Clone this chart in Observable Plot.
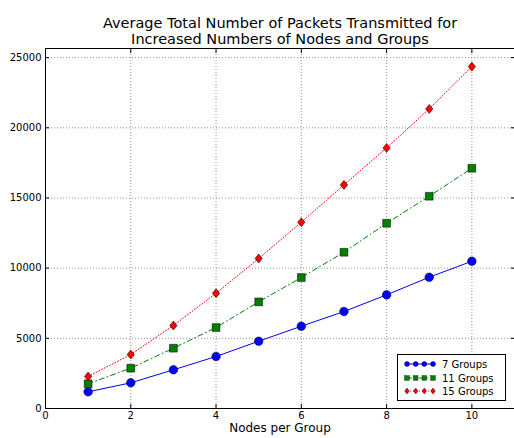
<!DOCTYPE html>
<html><head><meta charset="utf-8">
<script src="https://cdn.jsdelivr.net/npm/d3@7"></script>
<script src="https://cdn.jsdelivr.net/npm/@observablehq/plot@0.6"></script>
<style>
body{margin:0;background:#fff;font-family:"DejaVu Sans",sans-serif;}
#wrap{position:relative;width:514px;height:438px;overflow:hidden;}
#legend{position:absolute;left:397px;top:354px;width:107px;height:45px;border:1px solid #000;background:#fff;font-size:10px;}
.row{position:absolute;left:0;height:14px;}
.row svg{position:absolute;left:5px;top:0;}
.row span{position:absolute;left:44px;top:1px;white-space:nowrap;}
</style>
</head><body><div id="wrap"></div>
<script>
const nodes = [1, 2, 3, 4, 5, 6, 7, 8, 9, 10];
const groups7 = [1190, 1830, 2756, 3704, 4795, 5862, 6909, 8097, 9352, 10494];
const groups11 = [1757, 2873, 4296, 5769, 7597, 9330, 11133, 13198, 15123, 17118];
const groups15 = [2279, 3846, 5912, 8214, 10684, 13271, 15933, 18566, 21346, 24359];
const seriesNames = ["7 Groups", "11 Groups", "15 Groups"];
const xTicks = [0, 2, 4, 6, 8, 10];
const yTicks = [0, 5000, 10000, 15000, 20000, 25000];
const titleLines = ["Average Total Number of Packets Transmitted for", "Increased Numbers of Nodes and Groups"];
const xLabel = "Nodes per Group";

const diamond = {draw(ctx, size){const ry = Math.sqrt(size)*0.62, rx = ry*0.82; ctx.moveTo(0,-ry); ctx.lineTo(rx,0); ctx.lineTo(0,ry); ctx.lineTo(-rx,0); ctx.closePath();}};
const square = {draw(ctx, size){const h = Math.sqrt(size)/2; ctx.rect(-h,-h,2*h,2*h);}};

const styles = [
  {values: groups7, color: "#0000ff", dash: null, symbol: "circle", r: 4.3},
  {values: groups11, color: "#008000", dash: "5,3,1,3", symbol: square, r: 4.4},
  {values: groups15, color: "#ff0000", dash: "1,2", symbol: diamond, r: 4.1}
];
const data = styles.map((s, i) => nodes.map((n, j) => ({x: n, y: s.values[j], series: seriesNames[i]})));

const marks = [
  Plot.gridX(xTicks, {stroke: "#777", strokeOpacity: 1, strokeWidth: 0.8, strokeDasharray: "1,2"}),
  Plot.gridY(yTicks, {stroke: "#777", strokeOpacity: 1, strokeWidth: 0.8, strokeDasharray: "1,2"}),
  Plot.frame({stroke: "#000"}),
  Plot.axisX(xTicks, {anchor: "bottom", tickSize: 0, tickPadding: 3, label: null, fontSize: 10}),
  Plot.axisX(xTicks, {anchor: "bottom", tickSize: -4, text: null, label: null}),
  Plot.axisX(xTicks, {anchor: "top", tickSize: -4, text: null, label: null}),
  Plot.axisY(yTicks, {anchor: "left", tickSize: 0, tickPadding: 4, label: null, fontSize: 10, tickFormat: d => String(d)}),
  Plot.axisY(yTicks, {anchor: "left", tickSize: -4, text: null, label: null}),
  Plot.axisY(yTicks, {anchor: "right", tickSize: -4, text: null, label: null}),
];
styles.forEach((s, i) => {
  marks.push(Plot.line(data[i], {x: "x", y: "y", stroke: s.color, strokeWidth: 1, strokeDasharray: s.dash}));
});
styles.forEach((s, i) => {
  marks.push(Plot.dot(data[i], {x: "x", y: "y", fill: s.color, stroke: "#000", strokeWidth: 0.5, r: s.r, symbol: s.symbol}));
});
marks.push(Plot.text([titleLines[0]], {frameAnchor: "top", dy: -31, fontSize: 14.5, fill: "#000"}));
marks.push(Plot.text([titleLines[1]], {frameAnchor: "top", dy: -15, fontSize: 14.5, fill: "#000"}));
marks.push(Plot.text([xLabel], {frameAnchor: "bottom", dy: 23, fontSize: 12, fill: "#000"}));

const chart = Plot.plot({
  width: 514, height: 438,
  marginTop: 48, marginBottom: 30, marginLeft: 45, marginRight: 0,
  style: {fontFamily: "DejaVu Sans", fontSize: "10px", color: "#000", background: "#fff"},
  x: {domain: [0, 11]},
  y: {domain: [0, 25650]},
  marks
});
const wrap = document.getElementById("wrap");
wrap.appendChild(chart);

// legend
const legend = document.createElement("div");
legend.id = "legend";
const shapes = [
  (x, c) => `<circle cx="${x}" cy="6" r="2.5" fill="${c}" stroke="#000" stroke-width="0.4"/>`,
  (x, c) => `<rect x="${x-2.3}" y="3.7" width="4.6" height="4.6" fill="${c}" stroke="#000" stroke-width="0.4"/>`,
  (x, c) => `<path d="M${x},3 L${x+2.3},6 L${x},9 L${x-2.3},6 Z" fill="${c}" stroke="#000" stroke-width="0.4"/>`
];
styles.forEach((s, i) => {
  const row = document.createElement("div");
  row.className = "row";
  row.style.top = (3 + i * 13.5) + "px";
  const xs = [4, 12.7, 21.3, 30];
  let svg = `<svg width="36" height="12">` +
    `<line x1="4" y1="6" x2="30" y2="6" stroke="${s.color}" stroke-width="1" ${s.dash ? `stroke-dasharray="${s.dash}"` : ""}/>` +
    xs.map(x => shapes[i](x, s.color)).join("") + `</svg>`;
  row.innerHTML = svg + `<span>${seriesNames[i]}</span>`;
  legend.appendChild(row);
});
wrap.appendChild(legend);
</script>
</body></html>
